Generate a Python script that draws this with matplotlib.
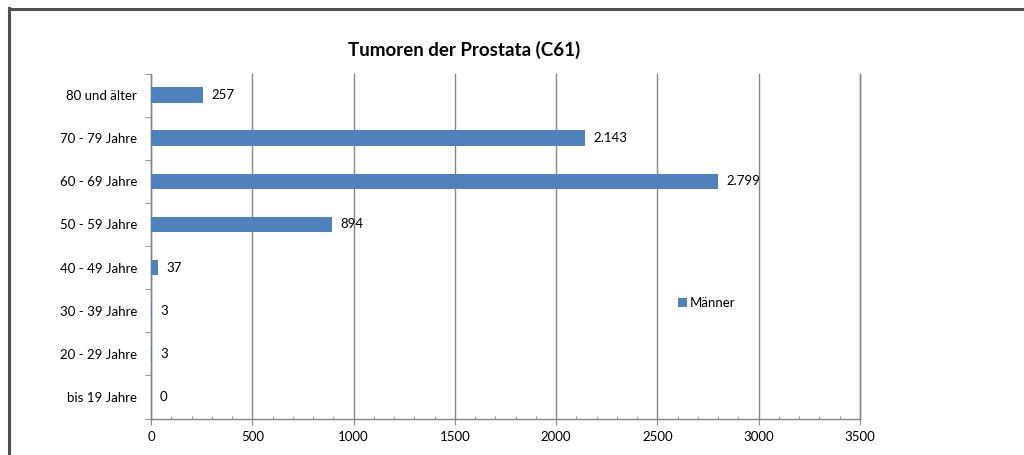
import matplotlib
matplotlib.use("Agg")
import matplotlib.pyplot as plt
from matplotlib.lines import Line2D
from matplotlib.ticker import MultipleLocator

categories = ["bis 19 Jahre", "20 - 29 Jahre", "30 - 39 Jahre", "40 - 49 Jahre",
              "50 - 59 Jahre", "60 - 69 Jahre", "70 - 79 Jahre", "80 und älter"]
values = [0, 3, 3, 37, 894, 2799, 2143, 257]
value_labels = ["0", "3", "3", "37", "894", "2.799", "2.143", "257"]
series_name = "Männer"
title = "Tumoren der Prostata (C61)"

plt.rcParams['font.family'] = ['Lato', 'DejaVu Sans']

W, H = 1024, 455
fig = plt.figure(figsize=(W / 100, H / 100), dpi=100)
ax = fig.add_axes([151 / W, 1 - 418.5 / H, (860 - 151) / W, (418.5 - 73.5) / H])

bar_color = "#4F81BD"
grid_color = "#868686"
fs = 9.5
pos = list(range(len(categories)))
bars = ax.barh(pos, values, height=0.36, color=bar_color, label=series_name, zorder=3)

for p, v, lab in zip(pos, values, value_labels):
    ax.annotate(lab, (v, p), xytext=(6, 0), textcoords="offset points",
                va="center", ha="left", fontsize=fs, color="black")

ax.set_xlim(0, 3500)
ax.set_ylim(-0.5, len(categories) - 0.5)
ax.xaxis.set_major_locator(MultipleLocator(500))
ax.xaxis.set_minor_locator(MultipleLocator(100))
ax.grid(axis="x", which="major", color=grid_color, linewidth=1, zorder=0)
for gl in ax.get_xgridlines():
    gl.set_clip_on(False)
ax.set_yticks(pos)
ax.set_yticklabels(categories)
ax.set_yticks([p - 0.5 for p in pos] + [len(categories) - 0.5], minor=True)
ax.tick_params(axis="y", which="major", length=0, pad=10, labelsize=fs)
ax.tick_params(axis="y", which="minor", length=4, direction="out", color=grid_color)
ax.tick_params(axis="x", which="major", length=4, direction="out", color=grid_color, labelsize=fs, pad=5)
ax.tick_params(axis="x", which="minor", length=2.5, direction="in", color=grid_color)

for s in ["top", "right"]:
    ax.spines[s].set_visible(False)
for s in ["left", "bottom"]:
    ax.spines[s].set_color(grid_color)
    ax.spines[s].set_linewidth(1)
ax.axvline(3500, color=grid_color, linewidth=1, clip_on=False, zorder=0)

fig.text(464 / W, 1 - 50 / H, title, ha="center", va="center", fontsize=13.5, fontweight="bold")

leg = ax.legend(loc="center left", bbox_to_anchor=(671 / W, 1 - 303 / H),
                bbox_transform=fig.transFigure, frameon=False, fontsize=fs,
                handlelength=0.7, handleheight=0.7, handletextpad=0.2, borderpad=0)

fig.add_artist(Line2D([8.5 / W, 1], [1 - 9 / H, 1 - 9 / H], transform=fig.transFigure,
                      color="#505050", linewidth=2.2))
fig.add_artist(Line2D([9 / W, 9 / W], [0, 1 - 8 / H], transform=fig.transFigure,
                      color="#505050", linewidth=2.2))

fig.savefig("out.png", dpi=100)
